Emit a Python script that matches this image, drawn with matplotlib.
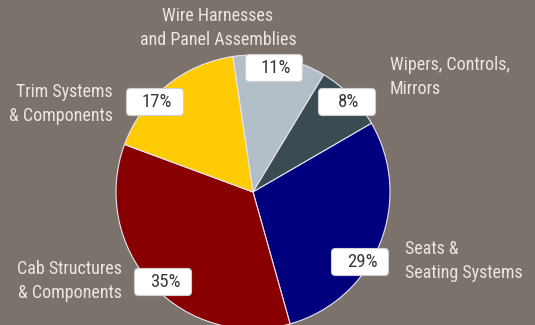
import matplotlib.pyplot as plt
from matplotlib.patches import FancyBboxPatch

# segment data (clockwise from top)
segments = ["Wire Harnesses\nand Panel Assemblies", "Wipers, Controls,\nMirrors",
            "Seats &\nSeating Systems", "Cab Structures\n& Components",
            "Trim Systems\n& Components"]
shares = [11, 8, 29, 35, 17]
colors = ["#b3bfc8", "#3b4b52", "#00007f", "#890000", "#ffcb05"]

plt.rcParams['font.family'] = ['Roboto Condensed', 'Roboto', 'DejaVu Sans']

W, H = 535, 325
bg = "#7b736b"
fig = plt.figure(figsize=(W / 100, H / 100), dpi=100, facecolor=bg)
ax = fig.add_axes([0, 0, 1, 1])
ax.set_facecolor(bg)

cx, cy, r = 253, H - 192, 137
ax.pie(shares, colors=colors, startangle=98.5, counterclock=False,
       center=(cx, cy), radius=r, frame=True,
       wedgeprops=dict(edgecolor="#e8e4f0", linewidth=0.8))
ax.set_xlim(0, W)
ax.set_ylim(0, H)
ax.set_aspect("equal")
ax.axis("off")

# category text: (x, y, ha)
cat_pos = [(218, 28, "center"), (390, 77, "left"), (405, 261, "left"),
           (122, 281, "right"), (113, 104, "right")]
for name, (x, y, ha) in zip(segments, cat_pos):
    ax.text(x, H - y, name, ha=ha, va="center", fontsize=13,
            color="#ece6df", linespacing=1.45)

# percentage boxes, fixed size label tags
bw, bh = 53, 23
pct_pos = [(274, 68), (347, 102), (360, 262), (163, 282), (155, 102)]
for v, (x, y) in zip(shares, pct_pos):
    ax.add_patch(FancyBboxPatch((x - bw / 2, H - y - bh / 2), bw, bh,
                                boxstyle="round,pad=2,rounding_size=4",
                                facecolor="white", edgecolor="#d0d0d0",
                                linewidth=0.8, zorder=3))
    ax.text(x + 2, H - y, "%d%%" % v, ha="center", va="center",
            fontsize=13.5, color="#3a3a3a", zorder=4)

fig.savefig("out.png", dpi=100, facecolor=bg)
